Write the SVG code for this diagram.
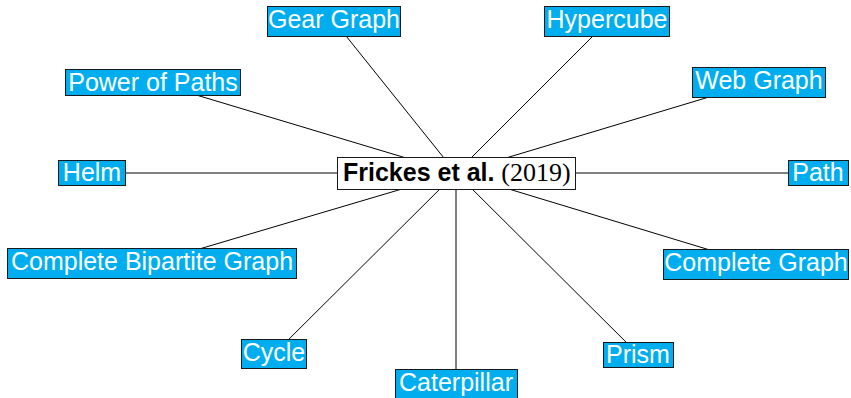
<svg xmlns="http://www.w3.org/2000/svg" width="851" height="398" viewBox="0 0 851 398">
<style>
.n rect{fill:#00AEEF;stroke:#1a1a1a;stroke-width:1}
.n text{fill:#fff;font-family:"Liberation Sans",Arial,sans-serif;font-size:25px;text-anchor:middle}
#edges line{stroke:#000;stroke-width:1}
</style>
<rect width="851" height="398" fill="#fff"/>
<g id="edges">
<line x1="456" y1="173" x2="334" y2="21"/>
<line x1="456" y1="173" x2="607" y2="22"/>
<line x1="456" y1="173" x2="153" y2="82"/>
<line x1="456" y1="173" x2="759" y2="82"/>
<line x1="456" y1="173" x2="92" y2="173"/>
<line x1="456" y1="173" x2="818" y2="173"/>
<line x1="456" y1="173" x2="152" y2="263"/>
<line x1="456" y1="173" x2="756" y2="264"/>
<line x1="456" y1="173" x2="274" y2="354"/>
<line x1="456" y1="173" x2="456" y2="383"/>
<line x1="456" y1="173" x2="638" y2="354"/>
</g>
<g id="center">
<rect x="337.5" y="157.5" width="238" height="32" fill="#fff" stroke="#1a1a1a" stroke-width="1"/>
<text x="343" y="181" font-family="Liberation Sans,Arial,sans-serif" font-weight="bold" font-size="25" fill="#000">Frickes et al.</text>
<text x="536" y="181" font-family="Liberation Serif,serif" font-size="26" fill="#000" text-anchor="middle">(2019)</text>
</g>
<g id="gear" class="n"><rect x="267.5" y="6.5" width="133" height="30"/><text x="334" y="28">Gear Graph</text></g>
<g id="hypercube" class="n"><rect x="544.5" y="6.5" width="125" height="30"/><text x="607" y="28">Hypercube</text></g>
<g id="power" class="n"><rect x="65.5" y="69.5" width="175" height="26"/><text x="153" y="91">Power of Paths</text></g>
<g id="web" class="n"><rect x="692.5" y="67.5" width="133" height="30"/><text x="759" y="89">Web Graph</text></g>
<g id="helm" class="n"><rect x="58.5" y="160.5" width="67" height="25"/><text x="92" y="181">Helm</text></g>
<g id="path" class="n"><rect x="788.5" y="160.5" width="60" height="25"/><text x="818" y="181">Path</text></g>
<g id="bipartite" class="n"><rect x="7.5" y="248.5" width="289" height="30"/><text x="152" y="270">Complete Bipartite Graph</text></g>
<g id="complete" class="n"><rect x="663.5" y="249.5" width="185" height="30"/><text x="756" y="271">Complete Graph</text></g>
<g id="cycle" class="n"><rect x="241.5" y="339.5" width="65" height="29"/><text x="274" y="361">Cycle</text></g>
<g id="caterpillar" class="n"><rect x="395.5" y="369.5" width="122" height="29"/><text x="456" y="391">Caterpillar</text></g>
<g id="prism" class="n"><rect x="603.5" y="342.5" width="70" height="25"/><text x="638" y="363">Prism</text></g>
</svg>
